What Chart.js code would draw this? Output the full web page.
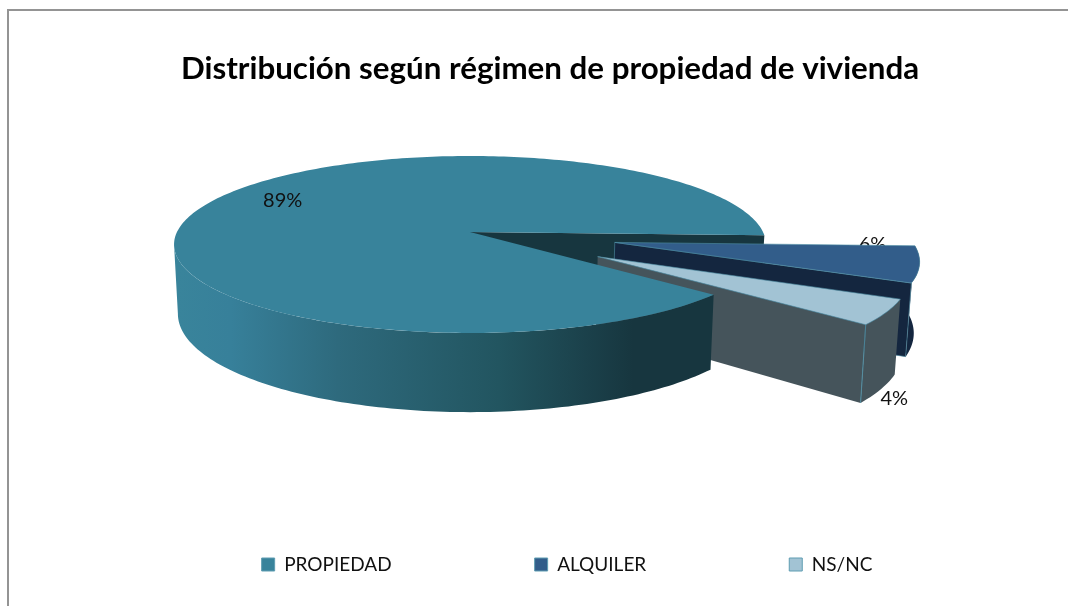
<!DOCTYPE html>
<html>
<head>
<meta charset="utf-8">
<title>Distribución según régimen de propiedad de vivienda</title>
<script src="https://cdn.jsdelivr.net/npm/chart.js@4/dist/chart.umd.min.js"></script>
<style>
  html, body { margin: 0; padding: 0; background: #fff; overflow: hidden; }
  #wrap { position: relative; width: 1068px; height: 606px; }
  #frame { position: absolute; left: 7px; top: 9px; right: 0; bottom: 0; border-left: 2px solid #949494; border-top: 2px solid #949494; }
  canvas { position: absolute; left: 0; top: 0; }
</style>
</head>
<body>
<div id="wrap">
  <div id="frame"></div>
  <canvas id="chart" width="1068" height="606"></canvas>
</div>
<script>
const categories = ['PROPIEDAD', 'ALQUILER', 'NS/NC'];
const shares = [89.2, 6.4, 4.4];
const percentLabels = ['89%', '6%', '4%'];
const topColors = ['#38839b', '#325d8a', '#a2c3d4'];
const sideColors = ['#17363f', '#14263f', '#45545b'];
const sliceOffsets = [0, 586, 586];

// how the flat pie is tilted on the page
const tilt = { centerX: 470, centerY: 232, squash: 0.296, perspective: 0.141, height: 68, bottomShrink: 0.013 };
// where the percent labels sit: radius along the slice, then a nudge in pixels
const labelSpots = [
  { radius: 0.78, dx: 17, dy: -8, behind: false },
  { radius: 0.93, dx: -25, dy: -18, behind: true },
  { radius: 1, dx: 8, dy: 86, behind: false }
];

function projector(arc) {
  const R = arc.outerRadius;
  const off = (arc.options.offset || 0) / 4 / R; // same /4 the library uses for arc offset
  const mid = (arc.startAngle + arc.endAngle) / 2;
  const ox = Math.cos(mid) * off;
  const oy = Math.sin(mid) * off;
  return function (angle, r, z) {
    const u = ox + r * Math.cos(angle);
    const v = oy + r * Math.sin(angle);
    const w = 1 - tilt.perspective * v;
    return {
      x: tilt.centerX + R * u / w * (1 - tilt.bottomShrink * z),
      y: tilt.centerY + (R * tilt.squash * v + tilt.height * z) / w
    };
  };
}

function fillPoly(ctx, pts, fill, edge) {
  ctx.beginPath();
  pts.forEach((p, i) => i ? ctx.lineTo(p.x, p.y) : ctx.moveTo(p.x, p.y));
  ctx.closePath();
  ctx.fillStyle = fill;
  ctx.fill();
  if (edge) {
    ctx.lineWidth = 0.6;
    ctx.strokeStyle = edge;
    ctx.stroke();
  }
}

function rim(project, from, to, z) {
  const pts = [];
  const steps = Math.max(6, Math.ceil(Math.abs(to - from) / 0.02));
  for (let i = 0; i <= steps; i++) {
    pts.push(project(from + (to - from) * i / steps, 1, z));
  }
  return pts;
}

function drawTop(ctx, arc, fill, edge) {
  const p = projector(arc);
  fillPoly(ctx, [p(0, 0, 0)].concat(rim(p, arc.startAngle, arc.endAngle, 0)), fill, edge);
}

// flat cut face going from the centre out to the rim at this angle
function drawCut(ctx, arc, angle, fill, edge) {
  const p = projector(arc);
  fillPoly(ctx, [p(0, 0, 0), p(angle, 1, 0), p(angle, 1, 1), p(0, 0, 1)], fill, edge);
}

// outer wall: the front of the circle up to the left silhouette,
// which with perspective falls a little before the half turn
function drawWall(ctx, arc, fill) {
  const p = projector(arc);
  const turn = arc.startAngle >= Math.PI * 2 ? Math.PI * 2 : 0; // later slices run past a full turn
  const from = Math.max(arc.startAngle - turn, 0);
  const to = Math.min(arc.endAngle - turn, Math.PI - Math.asin(tilt.perspective));
  if (to <= from) return;
  fillPoly(ctx, rim(p, from, to, 0).concat(rim(p, to, from, 1)), fill);
}

function drawLabel(ctx, arc, i) {
  const spot = labelSpots[i];
  const mid = (arc.startAngle + arc.endAngle) / 2;
  const pos = projector(arc)(mid, spot.radius, 0);
  ctx.font = '20px Lato';
  ctx.fillStyle = '#111';
  ctx.textAlign = 'center';
  ctx.textBaseline = 'middle';
  ctx.fillText(percentLabels[i], pos.x + spot.dx, pos.y + spot.dy);
}

const tiltedPie = {
  id: 'tiltedPie',
  afterLayout(chart) {
    // the legend row sits a little right of the title
    chart.legend.left += 17;
    chart.legend.right += 17;
  },
  beforeDatasetDraw(chart, args) {
    const ctx = chart.ctx;
    const arcs = args.meta.data;
    const main = arcs[0];
    const edge = '#4f8fa5';
    ctx.save();

    // cut face of the big slice, behind the pulled-out slices
    drawCut(ctx, main, main.endAngle, sideColors[0]);

    if (labelSpots[1].behind) drawLabel(ctx, arcs[1], 1);

    // pulled-out slices
    drawWall(ctx, arcs[1], sideColors[1]);
    drawCut(ctx, arcs[1], arcs[1].endAngle, sideColors[1], edge);
    drawTop(ctx, arcs[1], topColors[1], edge);

    drawCut(ctx, arcs[2], arcs[2].endAngle, sideColors[2]);
    drawWall(ctx, arcs[2], sideColors[2]);
    const p2 = projector(arcs[2]);
    fillPoly(ctx, [p2(arcs[2].endAngle, 1, 0), p2(arcs[2].endAngle, 1, 1)], sideColors[2], edge);
    drawTop(ctx, arcs[2], topColors[2], edge);

    // big slice wall with the left to right shading, then its top
    const left = projector(main)(Math.PI, 1, 0).x;
    const right = projector(main)(main.startAngle, 1, 0).x;
    const shade = ctx.createLinearGradient(left, 0, right, 0);
    shade.addColorStop(0, '#39849b');
    shade.addColorStop(0.1, '#37809a');
    shade.addColorStop(0.3, '#2e6a7d');
    shade.addColorStop(0.6, '#225560');
    shade.addColorStop(0.85, '#17363f');
    shade.addColorStop(1, '#17363f');
    drawWall(ctx, main, shade);
    drawTop(ctx, main, topColors[0]);

    drawLabel(ctx, main, 0);
    drawLabel(ctx, arcs[2], 2);
    ctx.restore();
    return false; // faces above replace the flat arcs
  }
};

new Chart(document.getElementById('chart'), {
  type: 'pie',
  data: {
    labels: categories,
    datasets: [{
      data: shares,
      backgroundColor: topColors,
      borderColor: '#5f9db2',
      borderWidth: 1,
      offset: sliceOffsets,
      clip: false
    }]
  },
  options: {
    responsive: false,
    animation: false,
    rotation: 131,
    radius: 293,
    cutout: '0%', // a plain 0 turns into NaN with offsets this large
    layout: { padding: { left: 32, bottom: 22 } },
    plugins: {
      tooltip: { enabled: false },
      title: {
        display: true,
        text: 'Distribución según régimen de propiedad de vivienda',
        color: '#000',
        font: { family: 'Lato', size: 31.3, weight: 'bold' },
        padding: { top: 50, bottom: 20 }
      },
      legend: {
        position: 'bottom',
        labels: {
          color: '#111',
          font: { family: 'Lato', size: 19 },
          boxWidth: 13,
          boxHeight: 13,
          padding: 143
        }
      }
    }
  },
  plugins: [tiltedPie]
});
</script>
</body>
</html>
